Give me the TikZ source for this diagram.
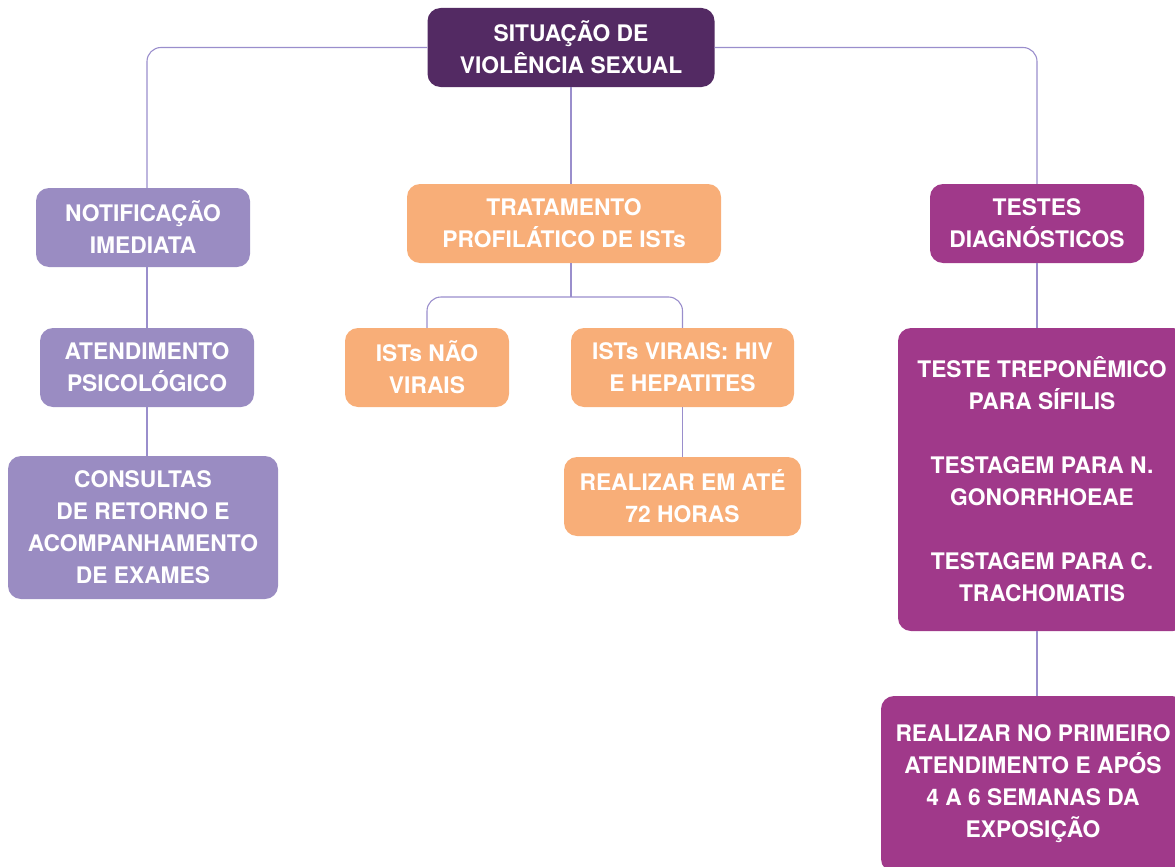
\documentclass[tikz,border=0pt]{standalone}
\usepackage{fontspec}
\setmainfont{TeX Gyre Heros}
\usepackage{tikz}

\definecolor{grape}{HTML}{532A63}
\definecolor{lilac}{HTML}{9A8CC2}
\definecolor{peach}{HTML}{F8AE78}
\definecolor{plum}{HTML}{A0398A}
\definecolor{wire}{HTML}{9A8ECC}

\begin{document}
\begin{tikzpicture}[x=1pt, y=-1pt,
  box/.style={rounded corners=13pt, text=white, align=center, inner sep=0pt,
    font=\fontsize{22.8}{32}\selectfont\bfseries, minimum height=79pt},
  grapebox/.style={box, fill=grape},
  lilacbox/.style={box, fill=lilac},
  peachbox/.style={box, fill=peach},
  plumbox/.style={box, fill=plum},
  link/.style={draw=wire, line width=1.1pt, rounded corners=14pt}]
  \useasboundingbox (0,0) rectangle (1175,867);

  % boxes
  \node[grapebox, minimum width=287pt] (situ) at (571,47.5) {SITUAÇÃO DE\\VIOLÊNCIA SEXUAL};

  \node[lilacbox, minimum width=214pt] (notif) at (143,227.5) {NOTIFICAÇÃO\\IMEDIATA};
  \node[lilacbox, minimum width=214pt] (atend) at (147,367.5) {ATENDIMENTO\\PSICOLÓGICO};
  \node[lilacbox, minimum width=270pt, minimum height=143pt] (consult) at (143,527.5) {CONSULTAS\\DE RETORNO E\\ACOMPANHAMENTO\\DE EXAMES};

  \node[peachbox, minimum width=314pt] (trat) at (564,223.5) {TRATAMENTO\\PROFILÁTICO DE ISTs};
  \node[peachbox, minimum width=164pt] (naovir) at (427,367.5) {ISTs NÃO\\VIRAIS};
  \node[peachbox, minimum width=223pt] (virais) at (682.5,367.5) {ISTs VIRAIS: HIV\\E HEPATITES};
  \node[peachbox, minimum width=237pt] (horas) at (682.5,496.5) {REALIZAR EM ATÉ\\72 HORAS};

  \node[plumbox, minimum width=214pt] (testes) at (1037,223.5) {TESTES\\DIAGNÓSTICOS};
  \node[plumbox, minimum width=288pt, minimum height=303pt] (exames) at (1042,479.5)
    {TESTE TREPONÊMICO\\PARA SÍFILIS\\[32pt]TESTAGEM PARA N.\\GONORRHOEAE\\[32pt]TESTAGEM PARA C.\\TRACHOMATIS};
  \node[plumbox, minimum width=304pt, minimum height=176pt] (primeiro) at (1033,784)
    {REALIZAR NO PRIMEIRO\\ATENDIMENTO E APÓS\\4 A 6 SEMANAS DA\\EXPOSIÇÃO};

  % links
  \coordinate (split) at (571,297);
  \draw[link] (situ.west) -| (notif.north -| atend.north);
  \draw[link] (situ.east) -| (testes.north);
  \draw[link] (situ.south) -- (situ.south |- trat.north);
  \draw[link] (notif.south -| atend.north) -- (atend.north);
  \draw[link] (atend.south) -- (consult.north -| atend.south);
  \draw[link] (situ.south |- trat.south) -- (split);
  \draw[link] (naovir.north) |- (split) -| (virais.north);
  \draw[link] (virais.south) -- (horas.north);
  \draw[link] (testes.south) -- (exames.north -| testes.south);
  \draw[link] (exames.south -| testes.south) -- (primeiro.north -| testes.south);
\end{tikzpicture}
\end{document}
